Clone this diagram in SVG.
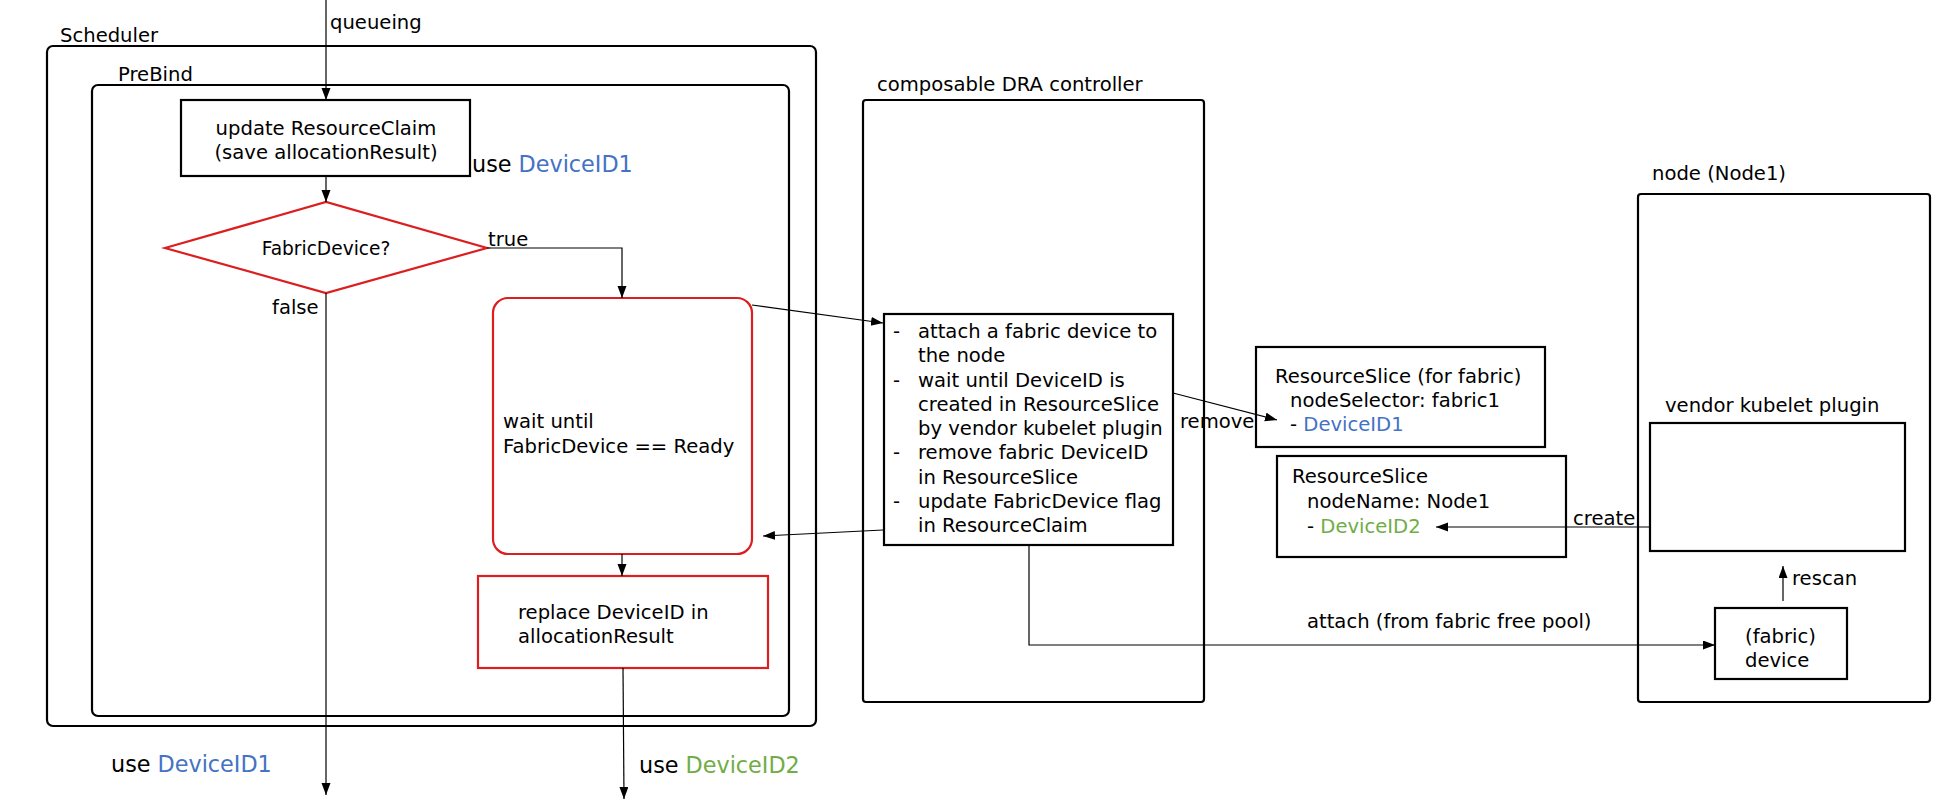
<svg xmlns="http://www.w3.org/2000/svg" width="1959" height="804" viewBox="0 0 1959 804">
  <defs>
    <marker id="arrow" markerUnits="userSpaceOnUse" markerWidth="13" markerHeight="10" refX="12" refY="4.5" orient="auto">
      <path d="M0,0 L12,4.5 L0,9 z" fill="#000"/>
    </marker>
    <style>
      text { font-family: "DejaVu Sans", "Liberation Sans", sans-serif; font-size: 19.6px; fill: #000; }
      .big { font-size: 22.3px; }
      .blue { fill: #4472c4; }
      .green { fill: #70ad47; }
      .frame { fill: none; stroke: #000; stroke-width: 2.2; }
      .box { fill: #fff; stroke: #000; stroke-width: 2.2; }
      .red { fill: #fff; stroke: #dc1e1e; stroke-width: 2.2; }
      .conn { fill: none; stroke: #000; stroke-width: 1.2; }
    </style>
  </defs>
  <rect width="1959" height="804" fill="#fff"/>

  <!-- containers -->
  <g id="scheduler">
    <rect class="frame" x="47" y="46" width="769" height="680" rx="6"/>
    <text x="60" y="42">Scheduler</text>
  </g>
  <g id="prebind">
    <rect class="frame" x="92" y="85" width="697" height="631" rx="6"/>
    <text x="118" y="81">PreBind</text>
  </g>
  <g id="controller">
    <rect class="frame" x="863" y="100" width="341" height="602" rx="3"/>
    <text x="877" y="91">composable DRA controller</text>
  </g>
  <g id="node1">
    <rect class="frame" x="1638" y="194" width="292" height="508" rx="3"/>
    <text x="1652" y="180">node (Node1)</text>
  </g>

  <!-- scheduler steps -->
  <g id="update-claim">
    <rect class="box" x="181" y="100" width="289" height="76"/>
    <text x="326" y="135" text-anchor="middle">update ResourceClaim</text>
    <text x="326" y="159" text-anchor="middle">(save allocationResult)</text>
  </g>
  <g id="use-id1-top">
    <text class="big" x="472" y="172">use <tspan class="blue">DeviceID1</tspan></text>
  </g>
  <g id="fabric-check">
    <polygon class="red" points="165,248 326,202 487,248 326,293"/>
    <text x="326" y="255" text-anchor="middle" style="font-size:18.6px">FabricDevice?</text>
  </g>
  <g id="wait-ready">
    <rect class="red" x="493" y="298" width="259" height="256" rx="15"/>
    <text x="503" y="428">wait until</text>
    <text x="503" y="453">FabricDevice == Ready</text>
  </g>
  <g id="replace-id">
    <rect class="red" x="478" y="576" width="290" height="92"/>
    <text x="518" y="619">replace DeviceID in</text>
    <text x="518" y="643">allocationResult</text>
  </g>
  <g id="use-id1-bottom">
    <text class="big" x="111" y="772">use <tspan class="blue">DeviceID1</tspan></text>
  </g>
  <g id="use-id2-bottom">
    <text class="big" x="639" y="773">use <tspan class="green">DeviceID2</tspan></text>
  </g>

  <!-- controller steps -->
  <g id="controller-steps">
    <rect class="box" x="884" y="314" width="289" height="231"/>
    <text x="893" y="338">-</text><text x="918" y="338">attach a fabric device to</text>
    <text x="918" y="362">the node</text>
    <text x="893" y="387">-</text><text x="918" y="387">wait until DeviceID is</text>
    <text x="918" y="411">created in ResourceSlice</text>
    <text x="918" y="435">by vendor kubelet plugin</text>
    <text x="893" y="459">-</text><text x="918" y="459">remove fabric DeviceID</text>
    <text x="918" y="484">in ResourceSlice</text>
    <text x="893" y="508">-</text><text x="918" y="508">update FabricDevice flag</text>
    <text x="918" y="532">in ResourceClaim</text>
  </g>

  <!-- resource slices -->
  <g id="slice-fabric">
    <rect class="box" x="1256" y="347" width="289" height="100"/>
    <text x="1275" y="383">ResourceSlice (for fabric)</text>
    <text x="1290" y="407">nodeSelector: fabric1</text>
    <text x="1290" y="431">- <tspan class="blue">DeviceID1</tspan></text>
  </g>
  <g id="slice-node">
    <rect class="box" x="1277" y="456" width="289" height="101"/>
    <text x="1292" y="483">ResourceSlice</text>
    <text x="1307" y="508">nodeName: Node1</text>
    <text x="1307" y="533">- <tspan class="green">DeviceID2</tspan></text>
  </g>

  <!-- node internals -->
  <g id="kubelet-plugin">
    <rect class="box" x="1650" y="423" width="255" height="128"/>
    <text x="1665" y="412">vendor kubelet plugin</text>
  </g>
  <g id="fabric-device">
    <rect class="box" x="1715" y="608" width="132" height="71"/>
    <text x="1745" y="643">(fabric)</text>
    <text x="1745" y="667">device</text>
  </g>

  <!-- connectors, drawn on top of the boxes -->
  <g id="connectors">
    <line class="conn" x1="326" y1="0" x2="326" y2="100" marker-end="url(#arrow)"/>
    <line class="conn" x1="326" y1="177" x2="326" y2="202" marker-end="url(#arrow)"/>
    <polyline class="conn" points="487,248 622,248 622,298" marker-end="url(#arrow)"/>
    <line class="conn" x1="326" y1="293" x2="326" y2="795" marker-end="url(#arrow)"/>
    <line class="conn" x1="622" y1="554" x2="622" y2="576" marker-end="url(#arrow)"/>
    <line class="conn" x1="623" y1="668" x2="624" y2="799" marker-end="url(#arrow)"/>
    <line class="conn" x1="752" y1="305" x2="883" y2="323" marker-end="url(#arrow)"/>
    <line class="conn" x1="883" y1="530" x2="763" y2="536" marker-end="url(#arrow)"/>
    <line class="conn" x1="1173" y1="393" x2="1277" y2="420" marker-end="url(#arrow)"/>
    <line class="conn" x1="1650" y1="527" x2="1436" y2="527" marker-end="url(#arrow)"/>
    <polyline class="conn" points="1029,546 1029,645 1715,645" marker-end="url(#arrow)"/>
    <line class="conn" x1="1783" y1="601" x2="1783" y2="566" marker-end="url(#arrow)"/>
    <text x="330" y="29">queueing</text>
    <text x="488" y="246">true</text>
    <text x="272" y="314">false</text>
    <text x="1180" y="428">remove</text>
    <text x="1573" y="525">create</text>
    <text x="1307" y="628">attach (from fabric free pool)</text>
    <text x="1792" y="585">rescan</text>
  </g>
</svg>
